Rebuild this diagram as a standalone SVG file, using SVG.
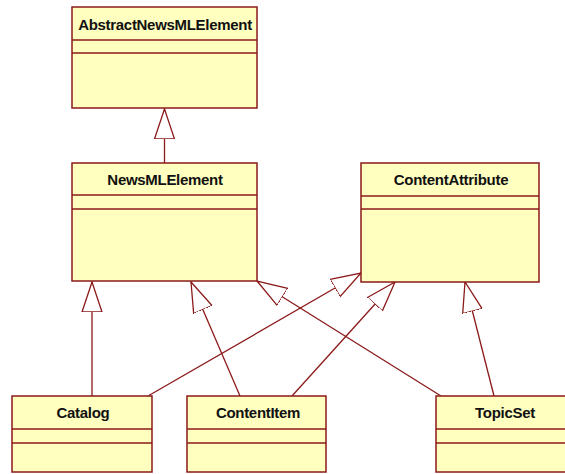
<svg xmlns="http://www.w3.org/2000/svg" width="565" height="474" viewBox="0 0 565 474">
  <style>
    .box { fill: #FFFFC0; stroke: #8B1A1A; stroke-width: 1.5; }
    .sep { stroke: #8B1A1A; stroke-width: 1.5; }
    .name { font-family: "Liberation Sans", Arial, sans-serif; font-size: 15px; font-weight: bold; fill: #111; text-anchor: middle; letter-spacing: -0.3px; }
    .gen { fill: none; stroke: #8B1A1A; stroke-width: 1.3; marker-end: url(#hollow); }
  </style>
  <defs>
    <!-- hollow triangle head for generalization -->
    <marker id="hollow" markerUnits="userSpaceOnUse" markerWidth="32" markerHeight="24" viewBox="0 -12 32 24" refX="30" refY="0" orient="auto">
      <path d="M0,-10 L30,0 L0,10 Z" fill="#fff" stroke="#8B1A1A" stroke-width="1.3"/>
    </marker>
  </defs>

  <g id="connectors">
    <line class="gen" x1="164.5" y1="163" x2="164.5" y2="109"/>
    <line class="gen" x1="92" y1="396" x2="92" y2="282"/>
    <line class="gen" x1="240" y1="396" x2="191" y2="282"/>
    <line class="gen" x1="441" y1="396" x2="257" y2="281"/>
    <line class="gen" x1="148" y1="396" x2="361" y2="273"/>
    <line class="gen" x1="292" y1="396" x2="395" y2="282"/>
    <line class="gen" x1="494" y1="396" x2="465" y2="282"/>
  </g>

  <g id="AbstractNewsMLElement">
    <rect class="box" x="72" y="7" width="185" height="101"/>
    <line class="sep" x1="72" y1="40" x2="257" y2="40"/>
    <line class="sep" x1="72" y1="53" x2="257" y2="53"/>
    <text class="name" x="165" y="30">AbstractNewsMLElement</text>
  </g>

  <g id="NewsMLElement">
    <rect class="box" x="72" y="163" width="185" height="118"/>
    <line class="sep" x1="72" y1="195" x2="257" y2="195"/>
    <line class="sep" x1="72" y1="209" x2="257" y2="209"/>
    <text class="name" x="165" y="185">NewsMLElement</text>
  </g>

  <g id="ContentAttribute">
    <rect class="box" x="361" y="163" width="178" height="119"/>
    <line class="sep" x1="361" y1="196" x2="539" y2="196"/>
    <line class="sep" x1="361" y1="209" x2="539" y2="209"/>
    <text class="name" x="451" y="185">ContentAttribute</text>
  </g>

  <g id="Catalog">
    <rect class="box" x="12" y="396" width="140" height="76"/>
    <line class="sep" x1="12" y1="429" x2="152" y2="429"/>
    <line class="sep" x1="12" y1="443" x2="152" y2="443"/>
    <text class="name" x="83" y="418">Catalog</text>
  </g>

  <g id="ContentItem">
    <rect class="box" x="187" y="396" width="139" height="76"/>
    <line class="sep" x1="187" y1="429" x2="326" y2="429"/>
    <line class="sep" x1="187" y1="443" x2="326" y2="443"/>
    <text class="name" x="258" y="418">ContentItem</text>
  </g>

  <g id="TopicSet">
    <rect class="box" x="436" y="396" width="138" height="76"/>
    <line class="sep" x1="436" y1="429" x2="574" y2="429"/>
    <line class="sep" x1="436" y1="443" x2="574" y2="443"/>
    <text class="name" x="505" y="418">TopicSet</text>
  </g>
</svg>
